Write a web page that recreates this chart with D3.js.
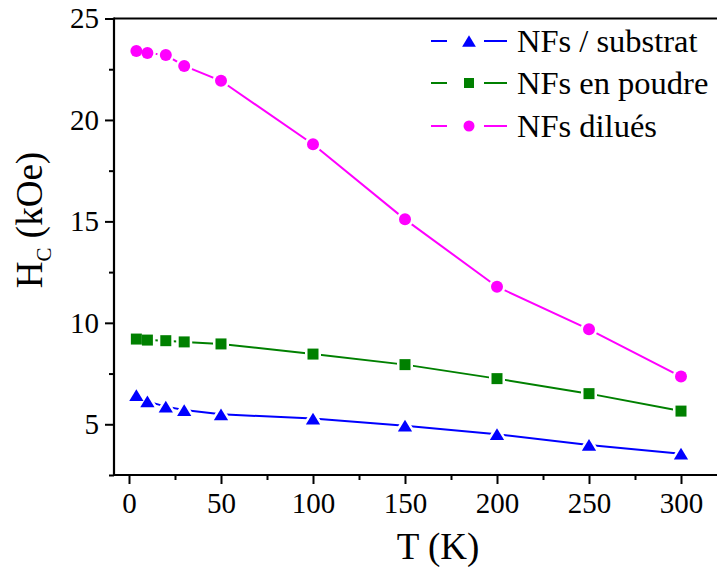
<!DOCTYPE html>
<html>
<head>
<meta charset="utf-8">
<script src="https://cdn.jsdelivr.net/npm/d3@7"></script>
<style>
  html, body { margin: 0; padding: 0; background: #fff; }
  svg { display: block; }
</style>
</head>
<body>
<svg id="chart" width="717" height="567"></svg>
<script>
// ---- data ----
const temps = [4, 10, 20, 30, 50, 100, 150, 200, 250, 300];
const substrat = [6.44, 6.13, 5.87, 5.70, 5.49, 5.28, 4.93, 4.51, 3.98, 3.55];
const poudre   = [9.20, 9.15, 9.12, 9.06, 8.96, 8.46, 7.94, 7.25, 6.51, 5.65];
const dilues   = [23.40, 23.30, 23.20, 22.66, 21.93, 18.80, 15.10, 11.78, 9.68, 7.35];
const seriesNames = ["NFs / substrat", "NFs en poudre", "NFs dilués"];
const xMajorTicks = [0, 50, 100, 150, 200, 250, 300];
const xMinorTicks = [25, 75, 125, 175, 225, 275];
const yMajorTicks = [5, 10, 15, 20, 25];
const yMinorTicks = [2.5, 7.5, 12.5, 17.5, 22.5];

const series = [
  { name: seriesNames[0], values: substrat, color: "#0000ff", shape: "triangle" },
  { name: seriesNames[1], values: poudre,   color: "#008000", shape: "square" },
  { name: seriesNames[2], values: dilues,   color: "#ff00ff", shape: "circle" }
];

const FONT = '"Times New Roman"';
const svg = d3.select("#chart");
const plotLeft = 114, plotTop = 18.5, plotBottom = 475, plotRight = 717;

const x = d3.scaleLinear().domain([0, 300]).range([129, 681]);
const y = d3.scaleLinear().domain([2.5, 25]).range([plotBottom, plotTop]);

svg.append("line").attr("x1", plotLeft).attr("x2", plotRight).attr("y1", plotTop).attr("y2", plotTop)
  .attr("stroke", "#000").attr("stroke-width", 2);

const xAxis = svg.append("g").attr("transform", `translate(0,${plotBottom})`);
xAxis.call(d3.axisBottom(x).tickValues(xMajorTicks).tickSize(9).tickPadding(8).tickFormat(d3.format("d")));
xAxis.append("g").call(d3.axisBottom(x).tickValues(xMinorTicks).tickSize(5).tickFormat(""));
xAxis.selectAll(".domain").remove();
svg.append("line").attr("x1", plotLeft).attr("x2", plotRight).attr("y1", plotBottom).attr("y2", plotBottom)
  .attr("stroke", "#000").attr("stroke-width", 2.2);

const yAxis = svg.append("g").attr("transform", `translate(${plotLeft},0)`);
yAxis.call(d3.axisLeft(y).tickValues(yMajorTicks).tickSize(9).tickPadding(6).tickFormat(d3.format("d")));
yAxis.append("g").call(d3.axisLeft(y).tickValues(yMinorTicks).tickSize(5).tickFormat(""));
yAxis.selectAll(".domain").remove();
svg.append("line").attr("x1", plotLeft).attr("x2", plotLeft).attr("y1", plotTop - 1).attr("y2", plotBottom + 1)
  .attr("stroke", "#000").attr("stroke-width", 2.2);

svg.selectAll("g").attr("font-family", FONT);
svg.selectAll(".tick line").attr("stroke", "#000").attr("stroke-width", 2);
svg.selectAll(".tick text").attr("font-family", FONT).attr("font-size", 29).attr("fill", "#000");

svg.append("text").attr("x", 438).attr("y", 559).attr("text-anchor", "middle")
  .attr("font-family", FONT).attr("font-size", 37).attr("fill", "#000").text("T (K)");

const yl = svg.append("text").attr("transform", "translate(42,220) rotate(-90)")
  .attr("text-anchor", "middle").attr("font-family", FONT).attr("font-size", 37).attr("fill", "#000");
yl.append("tspan").attr("font-family", FONT).text("H");
yl.append("tspan").attr("font-family", FONT).attr("dy", 9).attr("font-size", 21).text("C");
yl.append("tspan").attr("font-family", FONT).attr("dy", -9).text(" (kOe)");

function symbolPath(shape, s) {
  if (shape === "circle") return d3.symbol(d3.symbolCircle, Math.PI * s * s)();
  if (shape === "square") return d3.symbol(d3.symbolSquare, (2 * s) * (2 * s))();
  const w = s * 1.15, h = s * 0.95;
  return `M0,${-h}L${w},${h}L${-w},${h}Z`;
}
const markerSize = { circle: 6, square: 5.5, triangle: 6.2 };

const line = d3.line().x((d, i) => x(temps[i])).y(d => y(d));

series.forEach(s => {
  const g = svg.append("g");
  g.append("path").datum(s.values).attr("d", line)
    .attr("fill", "none").attr("stroke", s.color).attr("stroke-width", 2);
  g.selectAll(".halo").data(s.values).join("path").attr("class", "halo")
    .attr("transform", (d, i) => `translate(${x(temps[i])},${y(d)})`)
    .attr("d", symbolPath(s.shape, markerSize[s.shape]))
    .attr("fill", "#fff").attr("stroke", "#fff").attr("stroke-width", 5).attr("stroke-linejoin", "round");
  g.selectAll(".mk").data(s.values).join("path").attr("class", "mk")
    .attr("transform", (d, i) => `translate(${x(temps[i])},${y(d)})`)
    .attr("d", symbolPath(s.shape, markerSize[s.shape]))
    .attr("fill", s.color);
});

const legendY = [41, 83, 126];
const legSize = { circle: 5.5, square: 5, triangle: 6 };
series.forEach((s, i) => {
  const g = svg.append("g").attr("transform", `translate(0,${legendY[i]})`);
  g.append("line").attr("x1", 431).attr("x2", 447).attr("y1", 0).attr("y2", 0)
    .attr("stroke", s.color).attr("stroke-width", 2);
  g.append("line").attr("x1", 484).attr("x2", 507).attr("y1", 0).attr("y2", 0)
    .attr("stroke", s.color).attr("stroke-width", 2);
  g.append("path").attr("transform", "translate(469,0)")
    .attr("d", symbolPath(s.shape, legSize[s.shape])).attr("fill", s.color);
  g.append("text").attr("x", 517).attr("y", 11).attr("font-family", FONT)
    .attr("font-size", 32.5).attr("fill", "#000").text(s.name);
});
</script>
</body>
</html>
